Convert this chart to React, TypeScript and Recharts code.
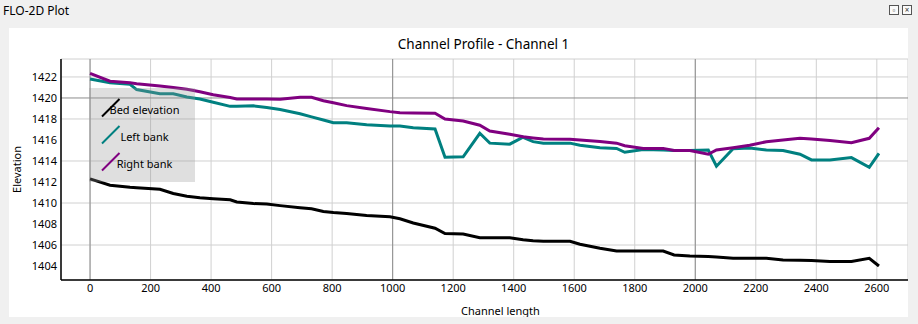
import React from 'react';
import {
  LineChart,
  Line,
  XAxis,
  YAxis,
  CartesianGrid,
  Legend,
  ReferenceLine,
} from 'recharts';

// channel length (stations) and elevations
const stations = [
  0, 66, 132, 154, 231, 275, 320, 363, 407, 463, 485, 540, 584, 628, 694, 732, 771, 804, 848, 914,
  991, 1024, 1068, 1140, 1173, 1233, 1288, 1321, 1387, 1431, 1464, 1498, 1586, 1619, 1685, 1740,
  1767, 1828, 1894, 1930, 1982, 2043, 2070, 2125, 2180, 2235, 2290, 2346, 2384, 2445, 2516, 2575, 2607,
];
const bedElevation = [
  1412.3, 1411.7, 1411.5, 1411.45, 1411.3, 1410.9, 1410.65, 1410.5, 1410.4, 1410.3, 1410.1, 1409.95,
  1409.9, 1409.75, 1409.55, 1409.45, 1409.2, 1409.1, 1409.0, 1408.8, 1408.7, 1408.5, 1408.1, 1407.6,
  1407.1, 1407.05, 1406.7, 1406.7, 1406.7, 1406.5, 1406.4, 1406.35, 1406.35, 1406.07, 1405.7, 1405.43,
  1405.43, 1405.43, 1405.43, 1405.05, 1404.95, 1404.9, 1404.85, 1404.73, 1404.73, 1404.73, 1404.57,
  1404.55, 1404.52, 1404.44, 1404.44, 1404.73, 1404.0,
];
const leftBank = [
  1421.8, 1421.45, 1421.3, 1420.8, 1420.4, 1420.4, 1420.1, 1419.9, 1419.6, 1419.2, 1419.2, 1419.25,
  1419.1, 1418.9, 1418.5, 1418.2, 1417.9, 1417.65, 1417.65, 1417.45, 1417.33, 1417.33, 1417.17, 1417.05,
  1414.35, 1414.4, 1416.64, 1415.7, 1415.6, 1416.26, 1415.84, 1415.7, 1415.7, 1415.5, 1415.25, 1415.2,
  1414.83, 1415.1, 1415.05, 1415.0, 1415.0, 1415.05, 1413.5, 1415.17, 1415.24, 1415.05, 1415.0,
  1414.64, 1414.1, 1414.1, 1414.32, 1413.4, 1414.73,
];
const rightBank = [
  1422.35, 1421.6, 1421.45, 1421.35, 1421.15, 1421.0, 1420.83, 1420.6, 1420.3, 1420.05, 1419.9, 1419.9,
  1419.9, 1419.87, 1420.06, 1420.06, 1419.74, 1419.55, 1419.27, 1419.0, 1418.7, 1418.6, 1418.56, 1418.54,
  1418.0, 1417.8, 1417.4, 1416.86, 1416.54, 1416.3, 1416.2, 1416.1, 1416.06, 1416.0, 1415.85, 1415.7,
  1415.45, 1415.2, 1415.2, 1415.0, 1415.0, 1414.64, 1415.05, 1415.27, 1415.5, 1415.84, 1416.0,
  1416.16, 1416.1, 1415.95, 1415.74, 1416.16, 1417.17,
];

const xTicks = [0, 200, 400, 600, 800, 1000, 1200, 1400, 1600, 1800, 2000, 2200, 2400, 2600];
const yTicks = [1404, 1406, 1408, 1410, 1412, 1414, 1416, 1418, 1420, 1422];
const majorX = [0, 1000, 2000];
const majorY = [1420];

const data = stations.map((s, i) => ({
  station: s,
  bed: bedElevation[i],
  left: leftBank[i],
  right: rightBank[i],
}));

const font = '"Noto Sans", sans-serif';

const renderLegend = (props: any) => {
  const payload = props.payload || [];
  return (
    <svg width={106} height={94} style={{ display: 'block', background: 'rgba(150,150,150,0.3)' }}>
      {payload.map((p: any, i: number) => {
        const yc = 21 + i * 27;
        return (
          <g key={p.value}>
            <line x1={13} y1={yc + 7.5} x2={30.5} y2={yc - 10} stroke={p.color} strokeWidth={2} />
            <text
              x={55.5}
              y={yc}
              textAnchor="middle"
              dominantBaseline="central"
              fontSize={11}
              fontFamily={font}
              fill="#000"
            >
              {p.value}
            </text>
          </g>
        );
      })}
    </svg>
  );
};

const iconStyle: React.CSSProperties = {
  position: 'absolute',
  top: 5,
  width: 8,
  height: 8,
  border: '1px solid #555',
  background: '#fafafa',
  fontSize: 8,
  lineHeight: '8px',
  textAlign: 'center',
  color: '#333',
};

export default function App() {
  return (
    <div
      style={{
        position: 'absolute',
        left: 0,
        top: 0,
        width: 918,
        height: 324,
        background: '#f0f0f0',
        fontFamily: font,
        overflow: 'hidden',
      }}
    >
      <div style={{ position: 'absolute', left: 3, top: 2, fontSize: 12, color: '#000' }}>FLO-2D Plot</div>
      <div style={{ ...iconStyle, left: 889 }}>▫</div>
      <div style={{ ...iconStyle, left: 902 }}>×</div>

      <div style={{ position: 'absolute', left: 9, top: 28, width: 899, height: 289, background: '#fff' }}>
        <div
          style={{
            position: 'absolute',
            left: 0,
            width: 949,
            top: 7,
            textAlign: 'center',
            fontSize: 13.5,
            color: '#000',
          }}
        >
          Channel Profile - Channel 1
        </div>
        <div style={{ position: 'absolute', left: 0, top: 0 }}>
          <LineChart width={899} height={289} data={data} margin={{ top: 31, right: 0, bottom: 0, left: 0 }}>
            <CartesianGrid stroke="#d0d0d0" strokeWidth={1} />
            <XAxis
              dataKey="station"
              type="number"
              domain={[-96, 2703]}
              ticks={xTicks}
              allowDataOverflow
              height={37}
              tickLine={false}
              tickSize={0}
              tickMargin={4}
              axisLine={{ stroke: '#000', strokeWidth: 1.5 }}
              tick={{ fill: '#000', fontSize: 11, fontFamily: font }}
              label={{ value: 'Channel length', position: 'insideBottom', offset: 2, dx: 16, fill: '#000', fontSize: 11, fontFamily: font }}
            />
            <YAxis
              type="number"
              domain={[1402.67, 1423.71]}
              ticks={yTicks}
              allowDataOverflow
              width={52}
              tickLine={false}
              tickSize={0}
              tickMargin={4}
              axisLine={{ stroke: '#000', strokeWidth: 1.5 }}
              tick={{ fill: '#000', fontSize: 11, fontFamily: font }}
              label={{ value: 'Elevation', angle: -90, position: 'insideLeft', offset: 8, textAnchor: 'middle', fill: '#000', fontSize: 11, fontFamily: font }}
            />
            {majorX.map((x) => (
              <ReferenceLine key={'x' + x} x={x} stroke="#8c8c8c" strokeWidth={1} />
            ))}
            {majorY.map((y) => (
              <ReferenceLine key={'y' + y} y={y} stroke="#8c8c8c" strokeWidth={1} />
            ))}
            <Line dataKey="bed" name="Bed elevation" stroke="#000000" strokeWidth={3} dot={false} isAnimationActive={false} type="linear" />
            <Line dataKey="left" name="Left bank" stroke="#008080" strokeWidth={3} dot={false} isAnimationActive={false} type="linear" />
            <Line dataKey="right" name="Right bank" stroke="#800080" strokeWidth={3} dot={false} isAnimationActive={false} type="linear" />
            <Legend
              layout="vertical"
              align="center"
              verticalAlign="middle"
              content={renderLegend}
              wrapperStyle={{ left: 80, top: 60, width: 106, height: 94 }}
            />
          </LineChart>
        </div>
      </div>
    </div>
  );
}
